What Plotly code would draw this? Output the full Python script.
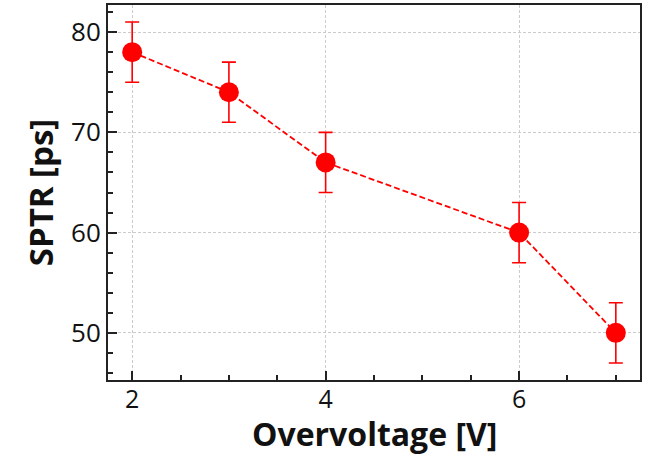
import plotly.graph_objects as go

# Overvoltage scan of single-photon time resolution
overvoltage = [2, 3, 4, 6, 7]
sptr_ps = [78, 74, 67, 60, 50]
sptr_err = [3, 3, 3, 3, 3]

x_ticks = [2, 4, 6]
y_ticks = [50, 60, 70, 80]

fig = go.Figure()
fig.add_trace(go.Scatter(
    x=overvoltage, y=sptr_ps,
    mode="lines+markers",
    line=dict(color="red", width=1.8, dash="6px,3px"),
    marker=dict(color="red", size=20, line=dict(width=0)),
    error_y=dict(type="data", array=sptr_err, color="red", thickness=1.6, width=7),
    showlegend=False,
))

font = "Open Sans, DejaVu Sans, sans-serif"
axis_common = dict(
    showline=True, linecolor="#222", linewidth=2, mirror=True,
    ticks="inside", ticklen=9, tickwidth=2, tickcolor="#222",
    showgrid=True, gridcolor="#cccccc", gridwidth=0.7, griddash="3px,2px",
    zeroline=False, automargin=False,
    tickfont=dict(family=font, size=26, color="#111"),
)

fig.update_xaxes(
    range=[1.75, 7.25], tickvals=x_ticks,
    minor=dict(ticks="inside", dtick=0.5, tick0=0, ticklen=5, tickwidth=1.5,
               tickcolor="#222", showgrid=False),
    ticklabelstandoff=-4,
    tickfont=dict(family=font, size=25, color="#111"),
    **{k: v for k, v in axis_common.items() if k != "tickfont"},
)
fig.update_yaxes(
    range=[45.3, 82.7], tickvals=y_ticks,
    minor=dict(ticks="inside", dtick=2, tick0=0, ticklen=5, tickwidth=1.5,
               tickcolor="#222", showgrid=False),
    title=dict(text="<b>SPTR [ps]</b>", font=dict(family=font, size=33, color="#111"),
               standoff=8),
    **axis_common,
)

# x-axis title placed below the tick labels
fig.add_annotation(
    text="<b>Overvoltage [V]</b>", xref="paper", yref="paper",
    x=0.5, y=0, xanchor="center", yanchor="top", yshift=-31,
    showarrow=False, borderpad=0, font=dict(family=font, size=32, color="#111"),
)

fig.update_layout(
    width=646, height=454,
    margin=dict(l=108, r=6, t=5, b=74),
    plot_bgcolor="white", paper_bgcolor="white",
)

fig.write_html("out.html")
